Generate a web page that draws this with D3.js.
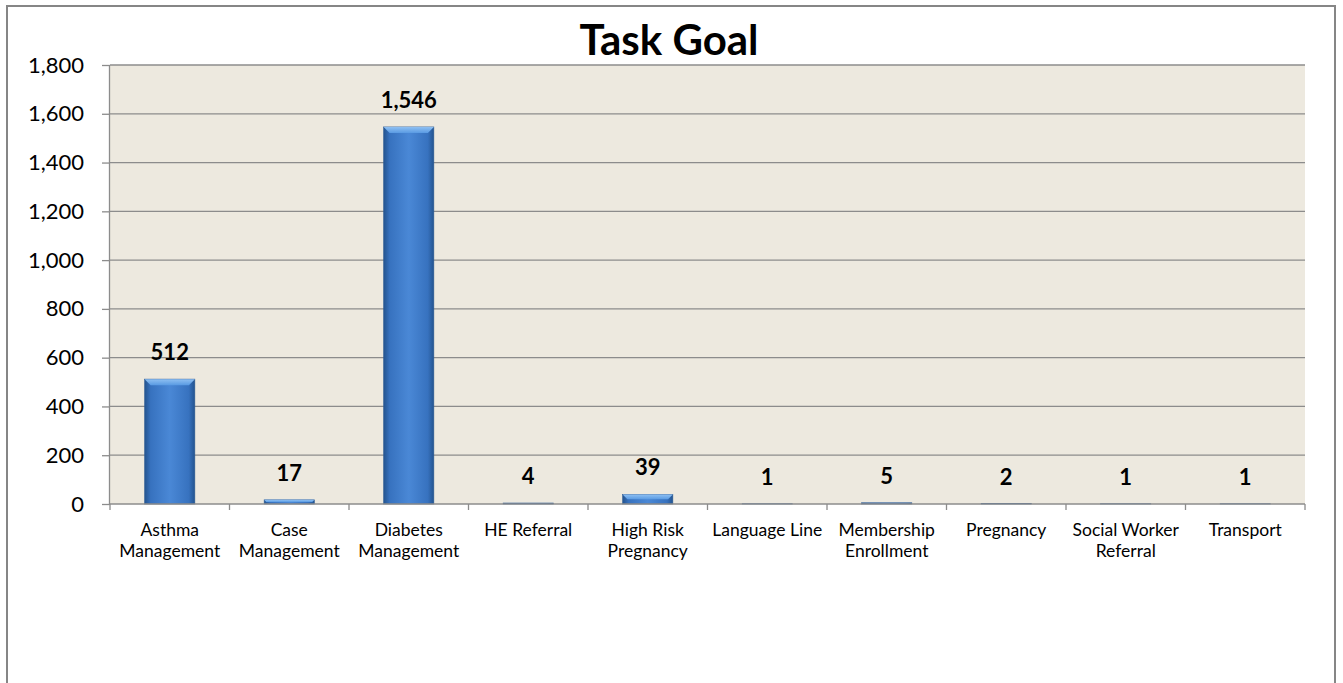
<!DOCTYPE html>
<html><head><meta charset="utf-8">
<script src="https://cdn.jsdelivr.net/npm/d3@7"></script>
<style>body{margin:0;background:#fff;} svg{display:block;}</style>
</head><body>
<script>
const categories = [["Asthma","Management"],["Case","Management"],["Diabetes","Management"],["HE Referral"],["High Risk","Pregnancy"],["Language Line"],["Membership","Enrollment"],["Pregnancy"],["Social Worker","Referral"],["Transport"]];
const values = [512,17,1546,4,39,1,5,2,1,1];
const yTicks = [0,200,400,600,800,1000,1200,1400,1600,1800];
const title = "Task Goal";

const W=1343,H=683;
const font = "Lato, 'Open Sans', sans-serif";
const svg = d3.select("body").append("svg").attr("width",W).attr("height",H);
svg.append("rect").attr("x",7).attr("y",6).attr("width",1328).attr("height",690).attr("fill","#fff").attr("stroke","#868686").attr("stroke-width",2);

const m={l:110,t:65,r:1305,b:504};
const keys = categories.map((c,i)=>i);
const x = d3.scaleBand().domain(keys).range([m.l,m.r]).paddingInner(0.58).paddingOuter(0.29);
const xb = d3.scaleBand().domain(keys).range([m.l,m.r]);
const y = d3.scaleLinear().domain([0,1800]).range([m.b,m.t]);

svg.append("rect").attr("x",m.l).attr("y",m.t).attr("width",m.r-m.l).attr("height",m.b-m.t).attr("fill","#ede9df");

// gridlines
svg.append("g").selectAll("line").data(yTicks.filter(d=>d>0)).join("line")
 .attr("x1",m.l).attr("x2",m.r).attr("y1",d=>y(d)).attr("y2",d=>y(d)).attr("stroke","#8c8c8c").attr("stroke-width",1.3);

const defs = svg.append("defs");
const g1 = defs.append("linearGradient").attr("id","barg").attr("x1","0").attr("x2","1").attr("y1","0").attr("y2","0");
[[0,"#24548f"],[0.12,"#3772bf"],[0.5,"#4a88d6"],[0.88,"#3772bf"],[1,"#24548f"]].forEach(s=>g1.append("stop").attr("offset",s[0]).attr("stop-color",s[1]));
const g2 = defs.append("linearGradient").attr("id","topg").attr("x1","0").attr("x2","0").attr("y1","0").attr("y2","1");
[[0,"#8fc0f2"],[1,"#5a9be3"]].forEach(s=>g2.append("stop").attr("offset",s[0]).attr("stop-color",s[1]));

const bars = svg.append("g");
values.forEach((v,i)=>{
  const bx=x(i), bw=x.bandwidth(), by=y(v), bh=y(0)-y(v);
  bars.append("rect").attr("x",bx).attr("y",by).attr("width",bw).attr("height",bh).attr("fill","url(#barg)").attr("stroke","#2c5a94").attr("stroke-width",0.6);
  const bev=Math.min(6,bh/2);
  if(bh>2){
    bars.append("path").attr("d",`M${bx},${by}L${bx+bw},${by}L${bx+bw-bev},${by+bev}L${bx+bev},${by+bev}Z`).attr("fill","url(#topg)");
  }
  svg.append("text").attr("x",bx+bw/2).attr("y",by-19).attr("text-anchor","middle")
   .attr("font-family",font).attr("font-weight","bold").attr("font-size",22).attr("fill","#000").text(d3.format(",")(v));
});

// axes
const yAxis = svg.append("g").attr("transform",`translate(${m.l},0)`)
  .call(d3.axisLeft(y).tickValues(yTicks).tickFormat(d3.format(",")).tickSize(8).tickPadding(18));
yAxis.select(".domain").attr("stroke","#8c8c8c").attr("stroke-width",1.3).attr("d",`M-0.5,${m.t}V${m.b}`);
yAxis.selectAll(".tick line").attr("stroke","#8c8c8c").attr("stroke-width",1.3);
yAxis.selectAll("text").attr("font-family",font).attr("font-size",22).attr("fill","#000");

const xg = svg.append("g");
xg.append("line").attr("x1",m.l).attr("x2",m.r).attr("y1",m.b).attr("y2",m.b).attr("stroke","#8c8c8c").attr("stroke-width",1.3);
xg.selectAll("line.t").data(d3.range(11)).join("line").attr("class","t")
 .attr("x1",d=>m.l+d*xb.step()).attr("x2",d=>m.l+d*xb.step()).attr("y1",m.b).attr("y2",m.b+6).attr("stroke","#8c8c8c").attr("stroke-width",1.3);
categories.forEach((c,i)=>{
  const t = xg.append("text").attr("x",xb(i)+xb.bandwidth()/2).attr("y",536).attr("text-anchor","middle")
    .attr("font-family",font).attr("font-size",17.5).attr("fill","#000");
  c.forEach((line,j)=>t.append("tspan").attr("x",xb(i)+xb.bandwidth()/2).attr("dy",j?21:0).text(line));
});

svg.append("text").attr("x",669).attr("y",55).attr("text-anchor","middle").attr("font-family",font)
 .attr("font-weight","bold").attr("font-size",42).attr("fill","#000").text(title);
</script>
</body></html>
